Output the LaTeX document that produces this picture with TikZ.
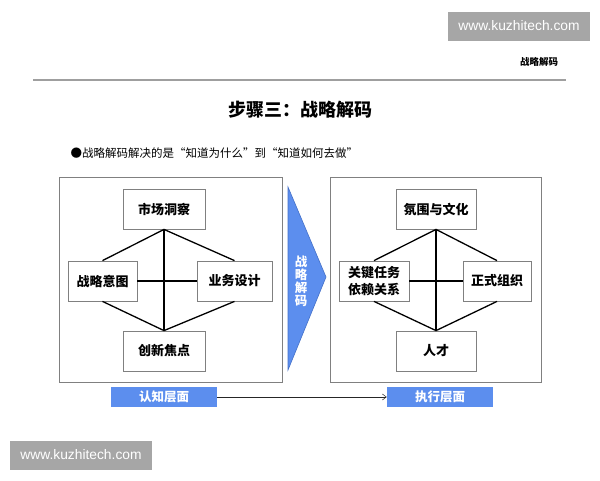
\documentclass[tikz,border=0pt]{standalone}
\usepackage{fontspec}
\setmainfont{Noto Sans CJK SC}
\newfontfamily\wmfont{Liberation Sans}
\usetikzlibrary{arrows.meta}
\definecolor{decblue}{RGB}{92,142,238}
\definecolor{decedge}{RGB}{68,112,200}
\definecolor{frame}{RGB}{128,128,128}
\tikzset{
  box/.style = {draw = frame, line width = 0.8pt, fill = white, align = center,
    inner sep = 0pt, minimum height = 40pt, font = \bfseries\fontsize{13}{17}\selectfont},
  tie/.style = {line width = 1.3pt},
  level/.style = {fill = decblue, text = white, inner sep = 0pt,
    minimum width = 106pt, minimum height = 20pt, font = \bfseries\fontsize{12.5}{14}\selectfont},
  wmbox/.style = {fill = gray!70, text = white, inner sep = 0pt,
    minimum width = 142pt, minimum height = 29pt, font = \wmfont\fontsize{13.8}{15}\selectfont}
}
\begin{document}
\begin{tikzpicture}[x = 1pt, y = -1pt]
\useasboundingbox (0,0) rectangle (600,480);
\fill[white] (0,0) rectangle (600,480);
%% header
\node[wmbox] (wmtop) at (519,26) {www.kuzhitech.com};
\node[font = \bfseries\fontsize{9.5}{11}\selectfont] (hdr) at (539,62) {战略解码};
\draw[line width = 1.8pt, gray!75] (33,80) -- (566,80);
\node[font = \bfseries\fontsize{18}{20}\selectfont] (title) at (300,110) {步骤三：战略解码};
\node[anchor = west, font = \fontsize{11.5}{13}\selectfont] (note) at (67,153)
  {●战略解码解决的是“知道为什么”到“知道如何去做”};
%% panels
\draw[frame, line width = 0.8pt] (59,177) rectangle (282,382);
\draw[frame, line width = 0.8pt] (330,177) rectangle (541,382);
\node[box, minimum width = 82pt] (mk) at (164,209) {市场洞察};
\node[box, minimum width = 69pt] (zl) at (102.5,281) {战略意图};
\node[box, minimum width = 75pt] (yw) at (234.5,281) {业务设计};
\node[box, minimum width = 82pt] (cx) at (164,351) {创新焦点};
\node[box, minimum width = 80pt] (fw) at (436,209) {氛围与文化};
\node[box, minimum width = 70pt] (gj) at (374,281) {关键任务\\依赖关系};
\node[box, minimum width = 68pt] (zs) at (497,281) {正式组织};
\node[box, minimum width = 80pt] (rc) at (436,351) {人才};
\foreach \t/\l/\r/\b in {mk/zl/yw/cx, fw/gj/zs/rc}{
  \draw[tie] (\t.south) -- (\b.north);
  \draw[tie] (\l.east) -- (\r.west);
  \draw[tie] (\l.north) -- (\t.south) -- (\r.north);
  \draw[tie] (\l.south) -- (\b.north) -- (\r.south);
}
%% decode arrow
\filldraw[fill = decblue, draw = decedge, line width = 0.6pt] (288,187) -- (326,277) -- (288,370) -- cycle;
\node[text = white, align = center, inner sep = 0pt, font = \bfseries\fontsize{12.5}{13}\selectfont]
  (dec) at (301,281) {战\\略\\解\\码};
%% levels
\node[level] (rz) at (164,397) {认知层面};
\node[level] (zx) at (440,397) {执行层面};
\draw[-{Straight Barb[length = 4pt, width = 6pt]}, gray!30!black, line width = 0.5pt] (rz) -- (zx);
\node[wmbox] (wmbot) at (81,455) {www.kuzhitech.com};
\end{tikzpicture}
\end{document}
